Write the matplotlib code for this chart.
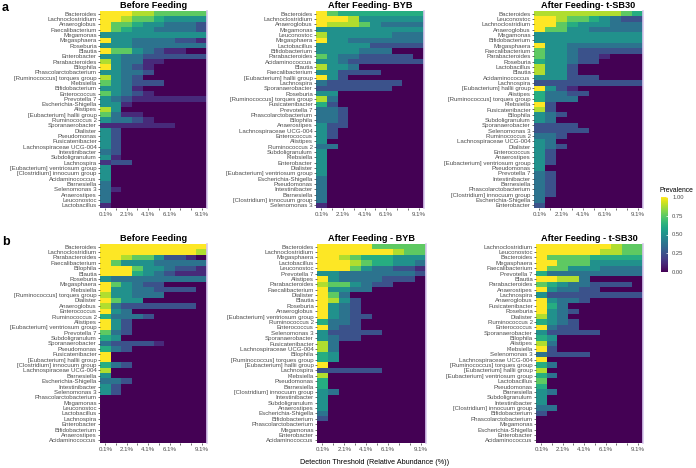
import matplotlib
matplotlib.use("Agg")
import matplotlib.pyplot as plt
import numpy as np

plt.rcParams['font.family'] = ['Liberation Sans', 'DejaVu Sans']

# detection thresholds (%), one column each
thresholds = [0.1, 1.1, 2.1, 3.1, 4.1, 5.1, 6.1, 7.1, 8.1, 9.1]
xtick_labels = ['0.1%', '', '2.1%', '', '4.1%', '', '6.1%', '', '', '9.1%']

# ---- panel a : Before Feeding ----
a_before_taxa = [
    'Bacteroides', 'Lachnoclostridium', 'Anaeroglobus', 'Faecalibacterium', 'Megamonas',
    'Megasphaera', 'Roseburia', 'Blautia', 'Enterobacter', 'Parabacteroides', 'Bilophila',
    'Phascolarctobacterium', '[Ruminococcus] torques group', 'Klebsiella', 'Bifidobacterium',
    'Enterococcus', 'Prevotella 7', 'Escherichia-Shigella', 'Alistipes',
    '[Eubacterium] hallii group', 'Ruminococcus 2', 'Sporanaerobacter', 'Dialister',
    'Pseudomonas', 'Fusicatenibacter', 'Lachnospiraceae UCG-004', 'Intestinibacter',
    'Subdoligranulum', 'Lachnospira', '[Eubacterium] ventriosum group',
    '[Clostridium] innocuum group', 'Acidaminococcus', 'Barnesiella', 'Selenomonas 3',
    'Anaerostipes', 'Leuconostoc', 'Lactobacillus']
a_before_prev = [
    [1, 1, 1, .88, .88, .75, .75, .75, .75, .75],
    [1, 1, .88, .75, .75, .62, .5, .5, .5, .5],
    [1, .75, .75, .62, .5, .5, .38, .38, .38, .25],
    [1, .75, .62, .5, .5, .38, .38, .38, .38, .25],
    [.5, .5, .5, .5, .5, .5, .5, .5, .5, .5],
    [1, .5, .5, .38, .38, .38, .38, .25, .25, .12],
    [.5, .5, .5, .38, .38, .38, .38, .38, .38, .38],
    [1, .75, .75, .5, .38, .25, .12, .12, 0, 0],
    [.5, .5, .38, .38, .25, .25, .25, .25, .25, .25],
    [.88, .5, .38, .38, .12, .12, 0, 0, 0, 0],
    [1, .5, .38, .25, .12, 0, 0, 0, 0, 0],
    [.5, .5, .38, .38, .25, 0, 0, 0, 0, 0],
    [.88, .5, .38, .25, 0, 0, 0, 0, 0, 0],
    [.75, .5, .38, .25, .25, .25, 0, 0, 0, 0],
    [.5, .5, .38, .12, 0, 0, 0, 0, 0, 0],
    [.75, .5, .38, .25, .12, 0, 0, 0, 0, 0],
    [.5, .38, .25, .12, .12, .12, .12, .12, .12, .12],
    [.5, .5, .12, 0, 0, 0, 0, 0, 0, 0],
    [.88, .5, 0, 0, 0, 0, 0, 0, 0, 0],
    [.75, .38, .12, .12, 0, 0, 0, 0, 0, 0],
    [.5, .38, .38, .25, .12, 0, 0, 0, 0, 0],
    [.12, .12, .12, .12, .12, .12, .12, 0, 0, 0],
    [.5, .25, 0, 0, 0, 0, 0, 0, 0, 0],
    [.5, .25, 0, 0, 0, 0, 0, 0, 0, 0],
    [.5, .25, 0, 0, 0, 0, 0, 0, 0, 0],
    [.5, .25, 0, 0, 0, 0, 0, 0, 0, 0],
    [.38, .25, 0, 0, 0, 0, 0, 0, 0, 0],
    [.5, .12, 0, 0, 0, 0, 0, 0, 0, 0],
    [.15, .25, .25, 0, 0, 0, 0, 0, 0, 0],
    [.5, 0, 0, 0, 0, 0, 0, 0, 0, 0],
    [.5, 0, 0, 0, 0, 0, 0, 0, 0, 0],
    [.5, 0, 0, 0, 0, 0, 0, 0, 0, 0],
    [.38, 0, 0, 0, 0, 0, 0, 0, 0, 0],
    [.38, .12, 0, 0, 0, 0, 0, 0, 0, 0],
    [.38, 0, 0, 0, 0, 0, 0, 0, 0, 0],
    [.38, 0, 0, 0, 0, 0, 0, 0, 0, 0],
    [.12, 0, 0, 0, 0, 0, 0, 0, 0, 0]]

# ---- panel a : After Feeding- BYB ----
a_byb_taxa = [
    'Bacteroides', 'Lachnoclostridium', 'Anaeroglobus', 'Megamonas', 'Leuconostoc',
    'Megasphaera', 'Lactobacillus', 'Bifidobacterium', 'Parabacteroides', 'Acidaminococcus',
    'Blautia', 'Faecalibacterium', '[Eubacterium] hallii group', 'Lachnospira',
    'Sporanaerobacter', 'Roseburia', '[Ruminococcus] torques group', 'Fusicatenibacter',
    'Prevotella 7', 'Phascolarctobacterium', 'Bilophila', 'Anaerostipes',
    'Lachnospiraceae UCG-004', 'Enterococcus', 'Alistipes', 'Ruminococcus 2',
    'Subdoligranulum', 'Klebsiella', 'Enterobacter', 'Dialister',
    '[Eubacterium] ventriosum group', 'Escherichia-Shigella', 'Pseudomonas',
    'Intestinibacter', 'Barnesiella', '[Clostridium] innocuum group', 'Selenomonas 3']
a_byb_prev = [
    [1, .75, .62, .62, .62, .62, .62, .62, .62, .62],
    [1, 1, 1, .88, .5, .5, .5, .5, .5, .5],
    [1, .88, .88, .88, .75, .5, .38, .38, .38, .38],
    [.5, .5, .5, .5, .5, .5, .5, .5, .5, .5],
    [.88, .5, .5, .5, .5, .5, .5, .38, .38, .38],
    [1, .5, .5, .38, .38, .38, .38, .38, .38, .38],
    [.5, .5, .5, .5, .5, .25, .25, .25, .25, .25],
    [.5, .5, .5, .5, .38, .38, .38, 0, 0, 0],
    [.75, .5, .38, .38, .25, .25, .25, .25, .25, 0],
    [.5, .5, .38, .25, .25, .25, .25, .25, .25, .25],
    [.88, .5, .5, .38, 0, 0, 0, 0, 0, 0],
    [.5, .5, .25, .25, .25, .25, 0, 0, 0, 0],
    [1, .5, .25, 0, 0, 0, 0, 0, 0, 0],
    [.38, .25, .25, .25, .25, .25, .25, .25, 0, 0],
    [.25, .25, .25, .25, .25, .25, .25, 0, 0, 0],
    [.5, .5, 0, 0, 0, 0, 0, 0, 0, 0],
    [.88, .38, 0, 0, 0, 0, 0, 0, 0, 0],
    [.62, .25, 0, 0, 0, 0, 0, 0, 0, 0],
    [.38, .38, .25, 0, 0, 0, 0, 0, 0, 0],
    [.38, .38, .25, 0, 0, 0, 0, 0, 0, 0],
    [.38, .38, .25, 0, 0, 0, 0, 0, 0, 0],
    [.5, .25, .25, 0, 0, 0, 0, 0, 0, 0],
    [.5, .25, 0, 0, 0, 0, 0, 0, 0, 0],
    [.5, .25, 0, 0, 0, 0, 0, 0, 0, 0],
    [.5, 0, 0, 0, 0, 0, 0, 0, 0, 0],
    [.38, .38, 0, 0, 0, 0, 0, 0, 0, 0],
    [.5, 0, 0, 0, 0, 0, 0, 0, 0, 0],
    [.5, 0, 0, 0, 0, 0, 0, 0, 0, 0],
    [.5, 0, 0, 0, 0, 0, 0, 0, 0, 0],
    [.5, 0, 0, 0, 0, 0, 0, 0, 0, 0],
    [.5, 0, 0, 0, 0, 0, 0, 0, 0, 0],
    [.38, 0, 0, 0, 0, 0, 0, 0, 0, 0],
    [.38, 0, 0, 0, 0, 0, 0, 0, 0, 0],
    [.38, 0, 0, 0, 0, 0, 0, 0, 0, 0],
    [.38, 0, 0, 0, 0, 0, 0, 0, 0, 0],
    [.38, 0, 0, 0, 0, 0, 0, 0, 0, 0],
    [.12, 0, 0, 0, 0, 0, 0, 0, 0, 0]]

# ---- panel a : After Feeding- t-SB30 ----
a_tsb_taxa = [
    'Bacteroides', 'Leuconostoc', 'Lachnoclostridium', 'Anaeroglobus', 'Megamonas',
    'Bifidobacterium', 'Megasphaera', 'Faecalibacterium', 'Parabacteroides', 'Roseburia',
    'Lactobacillus', 'Blautia', 'Acidaminococcus', 'Lachnospira',
    '[Eubacterium] hallii group', 'Alistipes', '[Ruminococcus] torques group', 'Klebsiella',
    'Fusicatenibacter', 'Bilophila', 'Subdoligranulum', 'Sporanaerobacter', 'Selenomonas 3',
    'Ruminococcus 2', 'Lachnospiraceae UCG-004', 'Dialister', 'Enterococcus', 'Anaerostipes',
    '[Eubacterium] ventriosum group', 'Pseudomonas', 'Prevotella 7', 'Intestinibacter',
    'Barnesiella', 'Phascolarctobacterium', '[Clostridium] innocuum group',
    'Escherichia-Shigella', 'Enterobacter']
a_tsb_prev = [
    [.88, .88, .88, .88, .88, .88, .88, .88, .75, .62],
    [1, 1, .88, .75, .75, .62, .5, .38, .25, .25],
    [1, 1, .75, .62, .5, .5, .5, .38, .38, .38],
    [1, .75, .75, .5, .5, .38, .38, .38, .38, .38],
    [.5, .5, .5, .5, .5, .5, .5, .5, .5, .5],
    [.5, .5, .5, .5, .5, .5, .5, .5, .5, .5],
    [1, .5, .5, .38, .38, .38, .38, .38, .38, .38],
    [.75, .5, .5, .38, .25, .25, .25, .25, .25, .25],
    [.75, .5, .5, .38, .25, .25, .12, 0, 0, 0],
    [.62, .5, .5, .38, .25, .25, 0, 0, 0, 0],
    [.88, .5, .5, .25, 0, 0, 0, 0, 0, 0],
    [.88, .5, .5, .25, 0, 0, 0, 0, 0, 0],
    [.5, .5, .5, .25, .25, .25, 0, 0, 0, 0],
    [.25, .25, .25, .25, .25, .25, .25, .25, .25, .25],
    [1, .5, .25, .12, 0, 0, 0, 0, 0, 0],
    [.62, .38, .38, .25, .25, 0, 0, 0, 0, 0],
    [.62, .38, .38, .38, 0, 0, 0, 0, 0, 0],
    [1, .25, 0, 0, 0, 0, 0, 0, 0, 0],
    [.88, .25, 0, 0, 0, 0, 0, 0, 0, 0],
    [.5, .38, .25, 0, 0, 0, 0, 0, 0, 0],
    [.5, .38, 0, 0, 0, 0, 0, 0, 0, 0],
    [.25, .25, .25, .25, 0, 0, 0, 0, 0, 0],
    [.25, .25, .25, .25, .25, 0, 0, 0, 0, 0],
    [.38, .38, .25, 0, 0, 0, 0, 0, 0, 0],
    [.5, .38, 0, 0, 0, 0, 0, 0, 0, 0],
    [.5, .38, .25, 0, 0, 0, 0, 0, 0, 0],
    [.5, .25, 0, 0, 0, 0, 0, 0, 0, 0],
    [.5, .25, 0, 0, 0, 0, 0, 0, 0, 0],
    [.5, .25, 0, 0, 0, 0, 0, 0, 0, 0],
    [.5, 0, 0, 0, 0, 0, 0, 0, 0, 0],
    [.38, .25, 0, 0, 0, 0, 0, 0, 0, 0],
    [.38, .25, 0, 0, 0, 0, 0, 0, 0, 0],
    [.38, .25, 0, 0, 0, 0, 0, 0, 0, 0],
    [.38, .25, 0, 0, 0, 0, 0, 0, 0, 0],
    [.38, .25, 0, 0, 0, 0, 0, 0, 0, 0],
    [.38, 0, 0, 0, 0, 0, 0, 0, 0, 0],
    [.25, 0, 0, 0, 0, 0, 0, 0, 0, 0]]

# ---- panel b : Before Feeding ----
b_before_taxa = [
    'Bacteroides', 'Lachnoclostridium', 'Parabacteroides', 'Faecalibacterium', 'Bilophila',
    'Blautia', 'Roseburia', 'Megasphaera', 'Klebsiella', '[Ruminococcus] torques group',
    'Dialister', 'Anaeroglobus', 'Enterococcus', 'Ruminococcus 2', 'Alistipes',
    '[Eubacterium] ventriosum group', 'Prevotella 7', 'Subdoligranulum', 'Sporanaerobacter',
    'Pseudomonas', 'Fusicatenibacter', '[Eubacterium] hallii group',
    '[Clostridium] innocuum group', 'Lachnospiraceae UCG-004', 'Barnesiella',
    'Escherichia-Shigella', 'Intestinibacter', 'Selenomonas 3', 'Phascolarctobacterium',
    'Megamonas', 'Leuconostoc', 'Lactobacillus', 'Lachnospira', 'Enterobacter',
    'Bifidobacterium', 'Anaerostipes', 'Acidaminococcus']
b_before_prev = [
    [1, 1, 1, 1, 1, 1, 1, 1, 1, 1],
    [1, 1, 1, 1, 1, 1, 1, 1, 1, .88],
    [1, 1, .88, .75, .75, .5, .25, .25, .12, 0],
    [1, .75, .5, .5, .5, .38, .38, .38, .38, .38],
    [1, 1, 1, .75, .5, .5, .38, .25, .25, .12],
    [1, 1, 1, .62, .5, .38, .25, .12, .12, .12],
    [.5, .38, .38, .38, .38, .38, .38, .38, .38, .38],
    [1, .75, .5, .38, .25, .25, 0, 0, 0, 0],
    [1, .5, .5, .38, .38, .25, .25, .25, .25, 0],
    [.88, .5, .5, .38, .38, .38, 0, 0, 0, 0],
    [1, .75, .5, .5, 0, 0, 0, 0, 0, 0],
    [.88, .38, .25, .25, .25, .25, .25, .25, .25, 0],
    [1, .5, .38, 0, 0, 0, 0, 0, 0, 0],
    [.62, .38, .38, .38, .25, 0, 0, 0, 0, 0],
    [1, .5, .25, 0, 0, 0, 0, 0, 0, 0],
    [1, .5, .25, 0, 0, 0, 0, 0, 0, 0],
    [.75, .38, .25, 0, 0, 0, 0, 0, 0, 0],
    [.62, .5, 0, 0, 0, 0, 0, 0, 0, 0],
    [.38, .25, .25, .25, .25, .12, 0, 0, 0, 0],
    [.62, .38, .25, 0, 0, 0, 0, 0, 0, 0],
    [1, 0, 0, 0, 0, 0, 0, 0, 0, 0],
    [1, 0, 0, 0, 0, 0, 0, 0, 0, 0],
    [.62, .38, .25, 0, 0, 0, 0, 0, 0, 0],
    [.88, 0, 0, 0, 0, 0, 0, 0, 0, 0],
    [.5, 0, 0, 0, 0, 0, 0, 0, 0, 0],
    [.38, .38, .25, 0, 0, 0, 0, 0, 0, 0],
    [.5, .25, 0, 0, 0, 0, 0, 0, 0, 0],
    [.5, .25, 0, 0, 0, 0, 0, 0, 0, 0],
    [0, 0, 0, 0, 0, 0, 0, 0, 0, 0],
    [0, 0, 0, 0, 0, 0, 0, 0, 0, 0],
    [0, 0, 0, 0, 0, 0, 0, 0, 0, 0],
    [0, 0, 0, 0, 0, 0, 0, 0, 0, 0],
    [0, 0, 0, 0, 0, 0, 0, 0, 0, 0],
    [0, 0, 0, 0, 0, 0, 0, 0, 0, 0],
    [0, 0, 0, 0, 0, 0, 0, 0, 0, 0],
    [0, 0, 0, 0, 0, 0, 0, 0, 0, 0],
    [0, 0, 0, 0, 0, 0, 0, 0, 0, 0]]

# ---- panel b : After Feeding - BYB ----
b_byb_taxa = [
    'Bacteroides', 'Lachnoclostridium', 'Megasphaera', 'Lactobacillus', 'Leuconostoc',
    'Prevotella 7', 'Alistipes', 'Parabacteroides', 'Faecalibacterium', 'Dialister',
    'Blautia', 'Roseburia', 'Anaeroglobus', '[Eubacterium] ventriosum group',
    'Ruminococcus 2', 'Enterococcus', 'Selenomonas 3', 'Sporanaerobacter',
    'Fusicatenibacter', 'Lachnospiraceae UCG-004', 'Bilophila',
    '[Ruminococcus] torques group', '[Eubacterium] hallii group', 'Lachnospira',
    'Klebsiella', 'Pseudomonas', 'Barnesiella', '[Clostridium] innocuum group',
    'Intestinibacter', 'Subdoligranulum', 'Anaerostipes', 'Escherichia-Shigella',
    'Bifidobacterium', 'Phascolarctobacterium', 'Megamonas', 'Enterobacter',
    'Acidaminococcus']
b_byb_prev = [
    [1, 1, 1, 1, 1, .75, .75, .75, .75, .75],
    [1, 1, 1, 1, 1, 1, 1, .88, .75, .75],
    [1, 1, .88, .75, .62, .62, .62, .5, .5, .5],
    [1, 1, 1, .88, .75, .62, .62, .5, .5, .38],
    [1, 1, 1, .75, .5, .38, .38, .25, .25, .12],
    [.5, .5, .38, .38, .38, .38, .38, .38, .38, .25],
    [1, .5, .38, .38, .38, .38, .25, .25, .25, 0],
    [.88, .75, .75, .5, .38, .25, .25, 0, 0, 0],
    [1, .5, .5, .38, .38, 0, 0, 0, 0, 0],
    [1, .75, .38, 0, 0, 0, 0, 0, 0, 0],
    [1, .88, .5, .25, 0, 0, 0, 0, 0, 0],
    [1, .5, .38, .25, 0, 0, 0, 0, 0, 0],
    [1, .5, .38, .25, 0, 0, 0, 0, 0, 0],
    [1, .5, .38, .25, .25, 0, 0, 0, 0, 0],
    [.62, .38, .38, .25, 0, 0, 0, 0, 0, 0],
    [1, .38, .25, .25, 0, 0, 0, 0, 0, 0],
    [.5, .25, .25, .25, .25, .25, 0, 0, 0, 0],
    [.5, .38, .25, .25, 0, 0, 0, 0, 0, 0],
    [.88, .38, 0, 0, 0, 0, 0, 0, 0, 0],
    [.88, .38, 0, 0, 0, 0, 0, 0, 0, 0],
    [.62, .5, 0, 0, 0, 0, 0, 0, 0, 0],
    [.62, .5, 0, 0, 0, 0, 0, 0, 0, 0],
    [1, 0, 0, 0, 0, 0, 0, 0, 0, 0],
    [.25, .25, .25, .25, .25, .25, 0, 0, 0, 0],
    [.88, 0, 0, 0, 0, 0, 0, 0, 0, 0],
    [.62, 0, 0, 0, 0, 0, 0, 0, 0, 0],
    [.62, 0, 0, 0, 0, 0, 0, 0, 0, 0],
    [.5, .38, 0, 0, 0, 0, 0, 0, 0, 0],
    [.5, 0, 0, 0, 0, 0, 0, 0, 0, 0],
    [.5, 0, 0, 0, 0, 0, 0, 0, 0, 0],
    [.5, 0, 0, 0, 0, 0, 0, 0, 0, 0],
    [.38, 0, 0, 0, 0, 0, 0, 0, 0, 0],
    [.25, 0, 0, 0, 0, 0, 0, 0, 0, 0],
    [0, 0, 0, 0, 0, 0, 0, 0, 0, 0],
    [0, 0, 0, 0, 0, 0, 0, 0, 0, 0],
    [0, 0, 0, 0, 0, 0, 0, 0, 0, 0],
    [0, 0, 0, 0, 0, 0, 0, 0, 0, 0]]

# ---- panel b : After Feeding - t-SB30 ----
b_tsb_taxa = [
    'Lachnoclostridium', 'Leuconostoc', 'Bacteroides', 'Megasphaera', 'Faecalibacterium',
    'Prevotella 7', 'Blautia', 'Parabacteroides', 'Anaerostipes', 'Lachnospira',
    'Anaeroglobus', 'Fusicatenibacter', 'Roseburia', 'Dialister', 'Ruminococcus 2',
    'Enterococcus', 'Sporanaerobacter', 'Bilophila', 'Alistipes', 'Klebsiella',
    'Selenomonas 3', 'Lachnospiraceae UCG-004', '[Ruminococcus] torques group',
    '[Eubacterium] hallii group', '[Eubacterium] ventriosum group', 'Lactobacillus',
    'Pseudomonas', 'Barnesiella', 'Subdoligranulum', 'Intestinibacter',
    '[Clostridium] innocuum group', 'Bifidobacterium', 'Phascolarctobacterium', 'Megamonas',
    'Escherichia-Shigella', 'Enterobacter', 'Acidaminococcus']
b_tsb_prev = [
    [1, 1, 1, 1, 1, 1, 1, .88, .75, .75],
    [1, 1, 1, 1, 1, 1, .88, .88, .75, .75],
    [1, .75, .75, .75, .75, .62, .62, .62, .62, .62],
    [1, 1, .75, .75, .75, .5, .5, .5, .5, .5],
    [1, .75, .75, .5, .5, .5, .38, .38, .38, .38],
    [.62, .38, .38, .38, .38, .38, .38, .38, .38, .38],
    [1, 1, .88, .88, .38, 0, 0, 0, 0, 0],
    [.75, .62, .5, .38, .38, .25, .25, .25, .25, 0],
    [1, .5, .38, .38, .25, .25, 0, 0, 0, 0],
    [.5, .25, .25, .25, .25, .25, .25, .25, .25, .25],
    [1, .5, .38, .38, .25, 0, 0, 0, 0, 0],
    [1, .62, .38, 0, 0, 0, 0, 0, 0, 0],
    [1, .5, .38, .25, 0, 0, 0, 0, 0, 0],
    [.88, .5, .38, 0, 0, 0, 0, 0, 0, 0],
    [.62, .5, .38, .25, 0, 0, 0, 0, 0, 0],
    [1, .38, .25, .25, 0, 0, 0, 0, 0, 0],
    [.5, .25, .25, .25, .25, .25, 0, 0, 0, 0],
    [.62, .5, 0, 0, 0, 0, 0, 0, 0, 0],
    [.88, .38, 0, 0, 0, 0, 0, 0, 0, 0],
    [1, .25, 0, 0, 0, 0, 0, 0, 0, 0],
    [.38, .25, .25, .25, .25, 0, 0, 0, 0, 0],
    [1, 0, 0, 0, 0, 0, 0, 0, 0, 0],
    [.62, .38, 0, 0, 0, 0, 0, 0, 0, 0],
    [.88, 0, 0, 0, 0, 0, 0, 0, 0, 0],
    [.62, .38, 0, 0, 0, 0, 0, 0, 0, 0],
    [.75, 0, 0, 0, 0, 0, 0, 0, 0, 0],
    [.62, 0, 0, 0, 0, 0, 0, 0, 0, 0],
    [.5, .38, 0, 0, 0, 0, 0, 0, 0, 0],
    [.5, 0, 0, 0, 0, 0, 0, 0, 0, 0],
    [.5, 0, 0, 0, 0, 0, 0, 0, 0, 0],
    [.38, .38, 0, 0, 0, 0, 0, 0, 0, 0],
    [.25, 0, 0, 0, 0, 0, 0, 0, 0, 0],
    [0, 0, 0, 0, 0, 0, 0, 0, 0, 0],
    [0, 0, 0, 0, 0, 0, 0, 0, 0, 0],
    [0, 0, 0, 0, 0, 0, 0, 0, 0, 0],
    [0, 0, 0, 0, 0, 0, 0, 0, 0, 0],
    [0, 0, 0, 0, 0, 0, 0, 0, 0, 0]]

W, H = 696, 468
fig = plt.figure(figsize=(W / 100, H / 100), dpi=100)


def px_axes(x0, x1, y0, y1):
    # pixel box (top-left origin) -> figure axes
    return fig.add_axes([x0 / W, 1 - y1 / H, (x1 - x0) / W, (y1 - y0) / H])


def heat(ax, taxa, prev, title):
    z = np.array(prev)
    ax.pcolormesh(np.arange(len(thresholds) + 1), np.arange(len(taxa) + 1), z,
                  cmap='viridis', vmin=0, vmax=1)
    ax.set_xlim(0, len(thresholds))
    ax.set_ylim(len(taxa), 0)
    ax.set_yticks(np.arange(len(taxa)) + 0.5)
    ax.set_yticklabels(taxa, fontsize=4.4, color='#4d4d4d')
    ax.set_xticks(np.arange(len(thresholds)) + 0.5)
    ax.set_xticklabels(xtick_labels, fontsize=4.4, color='#4d4d4d')
    ax.tick_params(axis='y', length=1.5, width=0.5, pad=0.8, color='#333333')
    ax.tick_params(axis='x', length=1.5, width=0.5, pad=1.5, color='#333333')
    for s in ['top', 'left', 'bottom']:
        ax.spines[s].set_visible(False)
    ax.spines['right'].set_color('#d8c8ee')
    ax.spines['right'].set_linewidth(1.2)
    ax.set_title(title, fontsize=6.6, fontweight='bold', pad=2)


top_a, bot_a = 11, 208
top_b, bot_b = 244, 443

heat(px_axes(100, 207, top_a, bot_a), a_before_taxa, a_before_prev, 'Before Feeding')
heat(px_axes(316, 424, top_a, bot_a), a_byb_taxa, a_byb_prev, 'After Feeding- BYB')
heat(px_axes(534, 643, top_a, bot_a), a_tsb_taxa, a_tsb_prev, 'After Feeding- t-SB30')
heat(px_axes(100, 207, top_b, bot_b), b_before_taxa, b_before_prev, 'Before Feeding')
heat(px_axes(317, 426, top_b, bot_b), b_byb_taxa, b_byb_prev, 'After Feeding - BYB')
heat(px_axes(536, 643, top_b, bot_b), b_tsb_taxa, b_tsb_prev, 'After Feeding - t-SB30')

# colour bar
cax = px_axes(661, 668, 197, 272)
sm = plt.cm.ScalarMappable(cmap='viridis', norm=plt.Normalize(0, 1))
cb = fig.colorbar(sm, cax=cax)
cb.outline.set_visible(False)
cb.set_ticks([0, 0.25, 0.5, 0.75, 1.0])
cb.set_ticklabels(['0.00', '0.25', '0.50', '0.75', '1.00'])
cax.tick_params(length=1.5, width=0.5, color='white', direction='in', labelsize=4.2,
                labelcolor='#4d4d4d', pad=3)
fig.text(660 / W, 1 - 190 / H, 'Prevalence', fontsize=4.9, ha='left', va='center')

fig.text(375 / W, 1 - 463 / H, 'Detection Threshold (Relative Abundance (%))',
         fontsize=5.2, ha='center', va='center')
fig.text(2 / W, 1 - 8 / H, 'a', fontsize=9, fontweight='bold', ha='left', va='center')
fig.text(2 / W, 1 - 242 / H, 'b', fontsize=9, fontweight='bold', ha='left', va='center')

fig.savefig('out.png', dpi=100)
